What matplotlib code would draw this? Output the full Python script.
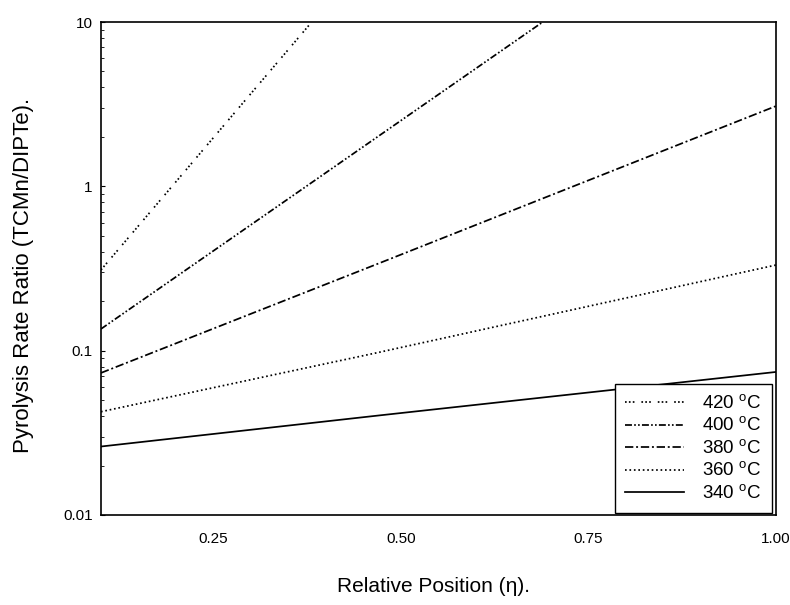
import matplotlib
matplotlib.use("Agg")
import matplotlib.pyplot as plt
from matplotlib.ticker import FixedLocator, LogLocator, NullFormatter

plt.rcParams['font.family'] = ['Liberation Sans', 'DejaVu Sans']
plt.rcParams['lines.scale_dashes'] = False

# Data (log-scale straight lines)
temps = ["420", "400", "380", "360", "340"]
x_420 = [0.10, 0.381]
y_420 = [0.31, 10.0]
x_400 = [0.10, 0.689]
y_400 = [0.1355, 10.0]
x_380 = [0.10, 0.472, 1.00]
y_380 = [0.0732, 0.342, 3.08]
x_360 = [0.10, 0.472, 1.00]
y_360 = [0.0425, 0.098, 0.332]
x_340 = [0.10, 0.472, 1.00]
y_340 = [0.0261, 0.0404, 0.0742]

x_ticks = [0.25, 0.50, 0.75, 1.00]
x_ticklabels = ["0.25", "0.50", "0.75", "1.00"]
y_ticks = [0.01, 0.1, 1, 10]
y_ticklabels = ["0.01", "0.1", "1", "10"]

styles = [
    (0, (1.2, 1.6, 1.2, 1.6, 1.2, 5)),
    (0, (5, 1.6, 1.2, 1.6, 1.2, 1.6)),
    (0, (6, 2, 1.4, 2)),
    (0, (1.2, 2)),
    '-',
]

fig = plt.figure(figsize=(7.9, 6.05), dpi=100)
ax = fig.add_axes([0.1278, 0.1488, 0.8545, 0.8148])

series = [(x_420, y_420), (x_400, y_400), (x_380, y_380), (x_360, y_360), (x_340, y_340)]
for (xs, ys), t, ls in zip(series, temps, styles):
    ax.plot(xs, ys, color='black', lw=1.25, linestyle=ls,
            label=t + r" $^{\mathregular{o}}$C", clip_on=True)

ax.set_yscale('log')
ax.set_xlim(0.10, 1.00)
ax.set_ylim(0.01, 10)

ax.xaxis.set_major_locator(FixedLocator(x_ticks))
ax.set_xticklabels(x_ticklabels)
ax.yaxis.set_major_locator(FixedLocator(y_ticks))
ax.set_yticklabels(y_ticklabels)
ax.yaxis.set_minor_locator(LogLocator(base=10, subs=range(2, 10)))
ax.yaxis.set_minor_formatter(NullFormatter())

ax.tick_params(axis='x', which='major', direction='in', length=0, pad=12, labelsize=11)
ax.tick_params(axis='y', which='major', direction='in', length=3, pad=6, labelsize=11)
ax.tick_params(axis='y', which='minor', direction='in', length=2)

for sp in ax.spines.values():
    sp.set_linewidth(1.2)
    sp.set_color('black')

fig.text(0.030, 0.545, "Pyrolysis Rate Ratio (TCMn/DIPTe).", rotation=90,
         ha='center', va='center', fontsize=16)
fig.text(0.549, 0.030, "Relative Position (\u03b7).", ha='center', va='center',
         fontsize=15)

leg = ax.legend(loc='lower right', bbox_to_anchor=(772 / 790, 1 - 513 / 605),
                bbox_transform=fig.transFigure, fontsize=13.5, frameon=True,
                fancybox=False, edgecolor='black', handlelength=3.1,
                handletextpad=1.0, labelspacing=0.2, borderpad=0.55,
                borderaxespad=0.0)
leg.get_frame().set_linewidth(1.0)
leg.get_frame().set_alpha(1.0)

fig.savefig("out.png", dpi=100)
